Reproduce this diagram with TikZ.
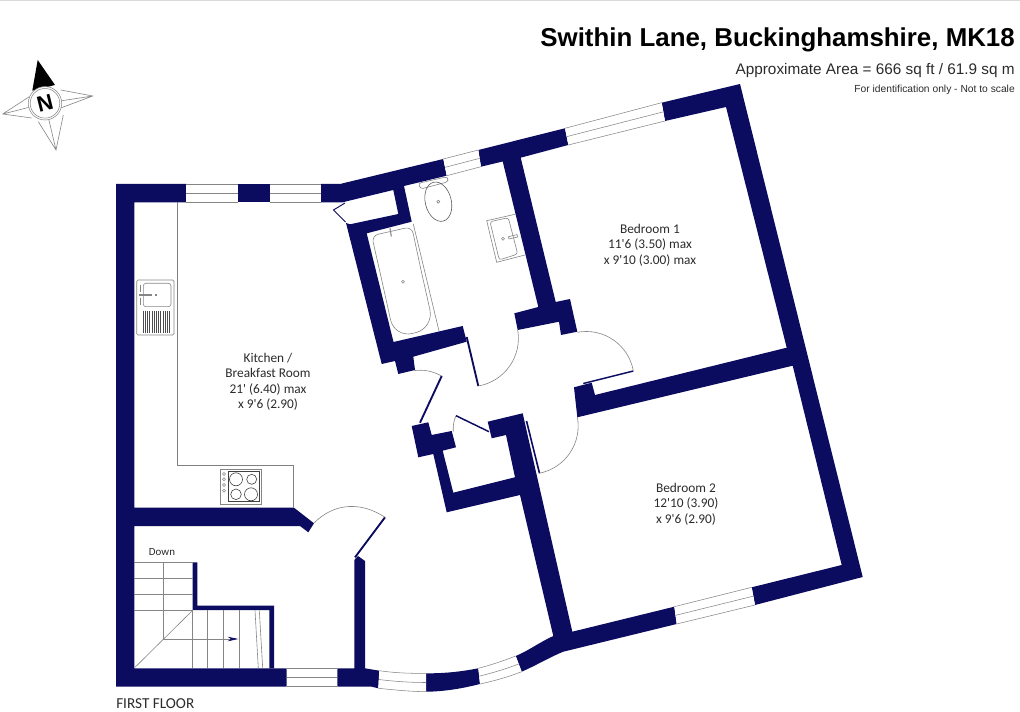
\documentclass[tikz,border=0pt]{standalone}
\usepackage{fontspec}
\setmainfont{Carlito}
\newfontfamily\titlefont{Liberation Sans}
\usetikzlibrary{calc,arrows.meta}
\definecolor{wallblue}{HTML}{0B0B60}
\definecolor{fixline}{HTML}{858585}
\definecolor{labeltext}{HTML}{2B2B2B}
\tikzstyle{wall} = [fill=wallblue, draw=none]
\tikzstyle{pane} = [draw=fixline, line width=0.4pt, fill=white]
\tikzstyle{fitting} = [draw=fixline, line width=0.45pt]
\tikzstyle{swing} = [draw=fixline, line width=0.45pt]
\tikzstyle{leaf} = [draw=wallblue, line width=1.4pt]
\tikzstyle{roomlabel} = [align=center, text=labeltext, font=\fontsize{10}{11.6}\selectfont]
\newcommand{\windowbar}[4]{
  \draw[pane, draw=none] (#1) -- (#2) -- (#4) -- (#3) -- cycle;
  \draw[pane] (#1) -- (#2) (#3) -- (#4) ($(#1)!.5!(#3)$) -- ($(#2)!.5!(#4)$);
}
\begin{document}
\begin{tikzpicture}[x=0.75pt,y=-0.75pt]
\useasboundingbox (0,0) rectangle (1020,712);
\fill[gray!30] (0,0) rectangle (1020,1.4);

% walls
\fill[wall] (116,184) -- (186.3,184) -- (186.3,202.3) -- (134.3,202.3) -- (134.3,507.7) -- (294,507.7) -- (314,523.3) -- (308.3,532.3) -- (300,526) -- (134.3,526) -- (134.3,668.3) -- (286.7,668.3) -- (286.7,686.7) -- (116,686.7) -- cycle;
\fill[wall] (238,184) rectangle (269.7,202.3);
\fill[wall] (321,184) -- (340,184) -- (443.3,159) -- (446.7,175.7) -- (404,186) -- (411.7,221.7) -- (366.7,233.3) -- (393.5,342) -- (462.7,326) -- (466.7,341.7) -- (413.3,356.7) -- (415,370) -- (398.3,374) -- (395,361) -- (381.7,364) -- (346,223) -- (350,224.3) -- (398.3,214) -- (393.3,190) -- (345,201.7) -- (343,202.3) -- (321,202.3) -- cycle;
\fill[wall] (478.3,150) -- (565,128.3) -- (568.3,145) -- (520.7,157.7) -- (555.7,302) -- (570,299) -- (577.3,331.7) -- (561,335) -- (559,321.7) -- (517.7,330) -- (514.3,313.3) -- (538.3,307) -- (502.7,161.5) -- (481,166.7) -- cycle;
\fill[wall] (661.7,102.7) -- (740,84) -- (862.7,577) -- (755,605) -- (751.7,587.3) -- (841.7,565) -- (792.7,365.7) -- (577.3,417.3) -- (574,387.3) -- (591.7,382.7) -- (595,395) -- (786.7,347.7) -- (726,107) -- (665,121) -- cycle;
\fill[wall] (411.7,426) -- (428.3,422.3) -- (431.7,435) -- (451.7,431) -- (456,447.3) -- (442.7,450.7) -- (453.3,492.7) -- (515,477.3) -- (506,435) -- (491.7,438.3) -- (487.7,421.7) -- (522.7,413.3) -- (526,428) -- (572.3,631.7) -- (674.3,606.7) -- (676.7,624) -- (563.3,651.7) .. controls (550,657) and (535,666) .. (521.7,671.7) -- (515.7,656) .. controls (528,651) and (540,642) .. (553.3,636) -- (520,495) -- (446.7,512.3) -- (433.3,454) -- (418.3,457.3) -- cycle;
\fill[wall] (192.7,562.3) -- (197.3,562.3) -- (197.3,605.7) -- (274,605.7) -- (274,668.3) -- (269.3,668.3) -- (269.3,610) -- (192.7,610) -- cycle;
\fill[wall] (337.3,668.3) -- (354.3,668.3) -- (354.3,560) -- (358,556) -- (365,561) -- (365,668.3) -- (379.3,670.7) -- (378.3,688.3) -- (371.7,686.7) -- (337.3,686.7) -- cycle;
\fill[wall] (426,673.3) .. controls (445,673.5) and (462,671.5) .. (478.3,668.3) -- (480,684) .. controls (462,688.5) and (445,691.5) .. (426,691.7) -- cycle;

% windows
\windowbar{186.3,184}{238,184}{186.3,202.3}{238,202.3}
\windowbar{269.7,184}{321,184}{269.7,202.3}{321,202.3}
\windowbar{443.3,159}{478.3,150}{446.7,175.7}{481,166.7}
\windowbar{565,128.3}{661.7,102.7}{568.3,145}{665,121}
\windowbar{674.3,606.7}{751.7,587.3}{676.7,624}{755,605}
\windowbar{286.7,668.3}{337.3,668.3}{286.7,686.7}{337.3,686.7}
\fill[white] (379.3,670.7) .. controls (395,673) and (410,673.5) .. (426,673.3) -- (426,691.7) .. controls (410,691.5) and (395,690) .. (378.3,688.3) -- cycle;
\draw[pane, fill=none] (379.3,670.7) .. controls (395,673) and (410,673.5) .. (426,673.3)
  (378.8,679.5) .. controls (395,681.5) and (410,682.5) .. (426,682.5)
  (378.3,688.3) .. controls (395,690) and (410,691.5) .. (426,691.7);
\fill[white] (478.3,668.3) .. controls (491,665) and (503,661) .. (515.7,656) -- (521.7,671.7) .. controls (508,677) and (494,681) .. (480,684) -- cycle;
\draw[pane, fill=none] (478.3,668.3) .. controls (491,665) and (503,661) .. (515.7,656)
  (479.2,676.2) .. controls (492,673) and (506,669) .. (518.7,663.9)
  (480,684) .. controls (494,681) and (508,677) .. (521.7,671.7);

% doors
\draw[leaf] (355,557.3) -- (385,517.3);
\draw[swing] (385,517.3) .. controls (362,502) and (335,502) .. (314,523);
\draw[leaf] (466.7,337) -- (478.3,386);
\draw[swing] (478.3,386) to[bend right=45] (517.7,330);
\draw[leaf] (420,422.7) -- (441.7,376);
\draw[swing] (441.7,376) to[bend right=17] (413.3,370.7);
\draw[leaf, line width=1.1pt] (456,415.7) -- (489,431.7);
\draw[swing] (456,415.7) to[bend right=13] (453.3,431.7);
\draw[leaf, line width=1.2pt] (526.5,421) -- (539.5,473.3);
\draw[swing] (539,473.3) to[bend right=45] (577.3,416.7);
\draw[leaf, line width=1.1pt] (583.3,383.5) -- (633.3,371);
\draw[swing] (633.3,370.7) to[bend right=45] (577.3,332.3);
\draw[leaf, line width=0.7pt] (345.5,222) -- (333.5,210) -- (345,203);

% kitchen units
\draw[fitting, draw=gray] (177.3,202.3) -- (177.3,465) -- (293.3,465) -- (293.3,507.7);
\draw[fitting, rounded corners=1pt] (136.7,280) rectangle (174,335);
\draw[fitting, rounded corners=2pt] (143.3,283.3) rectangle (171,306.7);
\foreach \hx in {143,145.2,...,170.6} {
  \draw[fitting, draw=black!70] (\hx,311) -- (\hx,332.7);
}
\draw[fitting] (140,285) -- (140,292) (140,298) -- (140,305);
\draw[fitting, line width=1.2pt] (139,295) -- (152,295);
\draw[fitting, line width=1pt] (155,295) -- (157,295);
\draw[fitting] (220.7,469.3) rectangle (261.7,504.3);
\draw[fitting, draw=black!75] (228.3,471.7) rectangle (259.3,501.7);
\draw[fitting, draw=black!75] (236,479.3) circle[radius=6.5] (251.7,479.3) circle[radius=5] (236,494.3) circle[radius=5.3] (251,494.3) circle[radius=6.5];
\foreach \ky in {474,479.3,485,490.7} {
  \draw[fitting] (224,\ky) circle[radius=1.5];
}

% stairs
\foreach \ty in {562.3,578.3,594.3,610.3} {
  \draw[fitting] (134.3,\ty) -- (192.7,\ty);
}
\foreach \tx in {192.7,207.7,223.7,239.7} {
  \draw[fitting] (\tx,610.3) -- (\tx,668.3);
}
\draw[fitting] (163.3,562.3) -- (163.3,639);
\draw[fitting] (255,610.3) -- (258.3,668.3) (259.3,610.3) -- (262.7,668.3);
\draw[fitting] (192.7,610.3) -- (135,667.3);
\draw[fitting, -{Stealth[color=wallblue,length=8pt,width=3.4pt]}] (163.3,639) -- (238.3,639);

% bathroom
\draw[fitting, rounded corners=5pt] (371.7,235.7) -- (411.7,226.7) -- (421,270) [rounded corners=14pt] -- (434,328) -- (394.5,338) -- (384,290) [rounded corners=5pt] -- cycle;
\draw[fitting] (413.3,224) -- (439,331);
\draw[fitting] (403,281.7) circle[radius=1.5];
\draw[fitting, line width=0.8pt] (390,228) -- (391.3,236.5);
\draw[fitting, rounded corners=2pt] (418.3,183.3) -- (447.3,176.7) -- (448.3,181.7) -- (420.7,189) -- cycle;
\draw[fitting, draw=black!65] (438.3,201.7) ellipse[x radius=13, y radius=20, rotate=14];
\draw[fitting] (438.3,201.7) circle[radius=1.5];
\draw[fitting] (515,214.3) -- (486.7,220.7) -- (496.7,262.3) -- (525,255);
\draw[fitting, rounded corners=2pt] (490,221.7) -- (508.3,217.7) -- (517.7,254) -- (499.3,260) -- cycle;
\draw[fitting] (503,238.7) circle[radius=1.5];
\draw[fitting] (508.3,236.8) -- (517,234.6) -- (517.6,237) -- (509,239) -- cycle;

% compass
\coordinate (ncentre) at (45,103.3);
\foreach \tipx/\tipy/\ax/\ay/\bx/\by in {92.7/96/60.7/90/60.7/108, 2.7/114/29.3/96.7/31.7/118, 56/150/38.3/121.7/63.3/115} {
  \draw[fitting] (\ax,\ay) -- (\tipx,\tipy) -- (\bx,\by) (ncentre) -- (\tipx,\tipy);
}
\fill[black] (37.7,60) -- (55,85) -- (32.3,90.7) -- cycle;
\draw[fill=white, draw=fixline, line width=0.4pt] (ncentre) circle[radius=16.7];
\draw[fixline, line width=0.4pt] (ncentre) circle[radius=14.8];
\node (northmark) [rotate=14, text=black] at (ncentre) {\fontsize{16.5}{16.5}\selectfont\titlefont\bfseries N};

% labels
\node (plantitle) [anchor=base east, inner sep=0pt, text=black] at (1015,47) {\fontsize{19.4}{22}\selectfont\titlefont\bfseries Swithin Lane, Buckinghamshire, MK18};
\node (planarea) [anchor=base east, inner sep=0pt, text=labeltext] at (1015,75) {\fontsize{11.5}{13}\selectfont\titlefont Approximate Area = 666 sq ft / 61.9 sq m};
\node (planscale) [anchor=base east, inner sep=0pt, text=labeltext] at (1015,93) {\fontsize{7.7}{9}\selectfont\titlefont For identification only - Not to scale};
\node (kitchenlabel) [roomlabel] at (268,382) {Kitchen /\\Breakfast Room\\21\textquotesingle{} (6.40) max\\x 9\textquotesingle{}6 (2.90)};
\node (bedroomone) [roomlabel] at (650,245) {Bedroom 1\\11\textquotesingle{}6 (3.50) max\\x 9\textquotesingle{}10 (3.00) max};
\node (bedroomtwo) [roomlabel] at (686,504) {Bedroom 2\\12\textquotesingle{}10 (3.90)\\x 9\textquotesingle{}6 (2.90)};
\node (stairsdown) [text=labeltext, font=\fontsize{8.2}{9}\selectfont] at (162,552) {Down};
\node (floorname) [anchor=west, inner sep=0pt, text=labeltext, font=\fontsize{11.4}{12}\selectfont] at (116,704) {FIRST FLOOR};
\end{tikzpicture}
\end{document}
